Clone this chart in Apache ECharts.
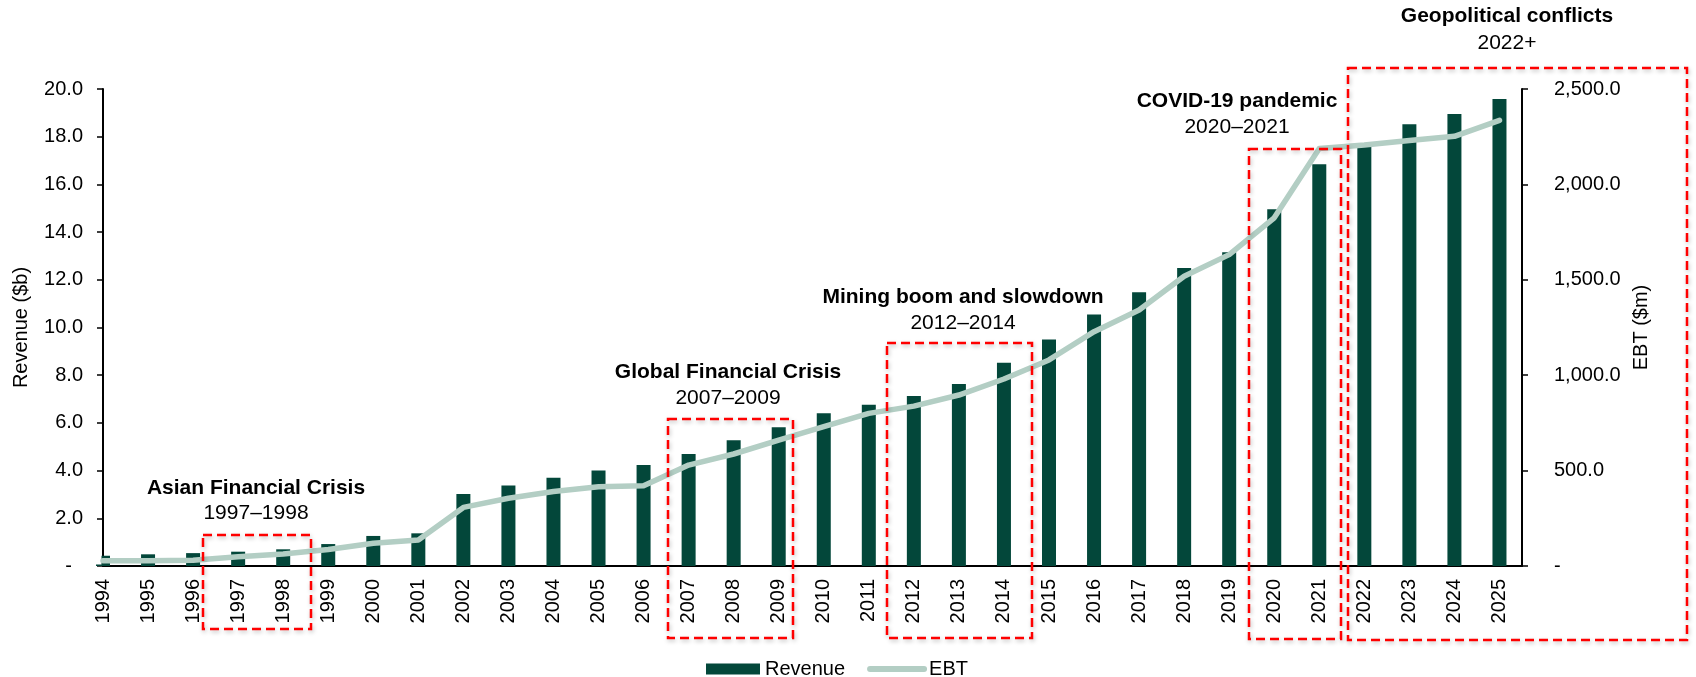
<!DOCTYPE html>
<html>
<head>
<meta charset="utf-8">
<title>Revenue and EBT, 1994-2025</title>
<script src="https://cdn.jsdelivr.net/npm/echarts@6/dist/echarts.min.js"></script>
<style>
  html, body { margin: 0; padding: 0; background: #fff; }
  #chart { width: 1696px; height: 677px; }
</style>
</head>
<body>
<div id="chart"></div>
<script>
// years on the x axis
var years = ['1994','1995','1996','1997','1998','1999','2000','2001','2002','2003','2004',
  '2005','2006','2007','2008','2009','2010','2011','2012','2013','2014','2015','2016',
  '2017','2018','2019','2020','2021','2022','2023','2024','2025'];
// Revenue ($b), left axis
var revenue = [0.43,0.49,0.54,0.60,0.70,0.92,1.26,1.37,3.02,3.38,3.70,
  4.00,4.23,4.70,5.27,5.82,6.40,6.76,7.13,7.63,8.52,9.50,10.54,
  11.48,12.49,13.15,14.96,16.85,17.65,18.52,18.95,19.58];
// EBT ($m), right axis
var ebt = [28,28,30,49,63,87,119,136,307,355,390,
  415,420,529,587,660,730,800,838,896,980,1080,1228,
  1342,1519,1632,1825,2188,2206,2230,2252,2336];
// event callouts
var eventTitles = ['Asian Financial Crisis','Global Financial Crisis','Mining boom and slowdown','COVID-19 pandemic','Geopolitical conflicts'];
var eventPeriods = ['1997\u20131998','2007\u20132009','2012\u20132014','2020\u20132021','2022+'];

var FONT = '"Liberation Sans", Arial, sans-serif';
var myChart = echarts.init(document.getElementById('chart'));

// callout layout: box [x, y, w, h] and text centre [x, yTitle, yPeriod]
var boxes = [[203,535,108,94],[668,419,125,219],[887,343,145,295],[1249,149,92,490],[1348,68,339,572]];
var labels = [[256,488,513],[728,372,398],[963,297,323],[1237,101,127],[1507,16,43]];

var graphics = [
  // the first bar sits on the axis and is cut in half, like the original
  { type: 'rect', z: 3, shape: { x: 84, y: 525, width: 17.5, height: 39.5 }, style: { fill: '#fff' } }
];
boxes.forEach(function (b) {
  graphics.push({
    type: 'rect', z: 100,
    shape: { x: b[0], y: b[1], width: b[2], height: b[3] },
    style: { fill: 'none', stroke: '#FF0000', lineWidth: 2.5, lineDash: [9, 5],
      shadowBlur: 4, shadowColor: 'rgba(0,0,0,0.25)', shadowOffsetX: 1, shadowOffsetY: 2 }
  });
});
labels.forEach(function (l, i) {
  graphics.push({
    type: 'text', z: 100,
    style: { text: eventTitles[i], x: l[0], y: l[1], align: 'center', verticalAlign: 'middle',
      fill: '#000', font: 'bold 21px ' + FONT }
  });
  graphics.push({
    type: 'text', z: 100,
    style: { text: eventPeriods[i], x: l[0], y: l[2], align: 'center', verticalAlign: 'middle',
      fill: '#000', font: '21px ' + FONT }
  });
});

var option = {
  animation: false,
  textStyle: { fontFamily: FONT },
  grid: { left: 103, right: 174, top: 89, bottom: 111 },
  legend: {
    left: 701, top: 654,
    itemWidth: 54, itemHeight: 11, itemGap: 22,
    textStyle: { fontSize: 20, color: '#000', fontFamily: FONT },
    data: [
      { name: 'Revenue', icon: 'rect' },
      { name: 'EBT', itemStyle: { opacity: 0 },
        lineStyle: { width: 6, color: '#B3CEC4', cap: 'round' } }
    ]
  },
  xAxis: {
    type: 'value', min: 0, max: 31.5, interval: 1,
    splitLine: { show: false },
    axisTick: { show: false },
    axisLine: { lineStyle: { color: '#000', width: 2 } },
    axisLabel: {
      rotate: 90, margin: 13, fontSize: 20, color: '#000',
      formatter: function (v) { return Number.isInteger(v) ? (years[v] || '') : ''; }
    }
  },
  yAxis: [
    {
      type: 'value', min: 0, max: 20, interval: 2,
      name: 'Revenue ($b)', nameLocation: 'middle', nameGap: 72,
      nameTextStyle: { fontSize: 20, color: '#000' },
      splitLine: { show: false },
      axisLine: { show: true, lineStyle: { color: '#000', width: 2 } },
      axisTick: { show: true, length: 6, lineStyle: { color: '#000', width: 1.5 } },
      axisLabel: {
        margin: 20, fontSize: 20, color: '#000',
        formatter: function (v) { return v === 0 ? '-  ' : v.toFixed(1); }
      }
    },
    {
      type: 'value', min: 0, max: 2500, interval: 500,
      name: 'EBT ($m)', nameLocation: 'middle', nameGap: 91,
      nameTextStyle: { fontSize: 20, color: '#000' },
      splitLine: { show: false },
      axisLine: { show: true, lineStyle: { color: '#000', width: 2 } },
      axisTick: { show: true, length: 6, lineStyle: { color: '#000', width: 1.5 } },
      axisLabel: {
        margin: 32, fontSize: 20, color: '#000',
        formatter: function (v) {
          return v === 0 ? '-' : v.toLocaleString('en-US', { minimumFractionDigits: 1, maximumFractionDigits: 1 });
        }
      }
    }
  ],
  series: [
    {
      name: 'Revenue', type: 'bar', yAxisIndex: 0,
      barWidth: 14,
      itemStyle: { color: '#03473A' },
      data: revenue.map(function (v, i) { return [i, v]; })
    },
    {
      name: 'EBT', type: 'line', yAxisIndex: 1, z: 5,
      symbol: 'none',
      lineStyle: { color: '#B3CEC4', width: 5.5, cap: 'round', join: 'round' },
      itemStyle: { color: '#B3CEC4' },
      data: ebt.map(function (v, i) { return [i, v]; })
    }
  ],
  graphic: graphics
};
myChart.setOption(option);
</script>
</body>
</html>
